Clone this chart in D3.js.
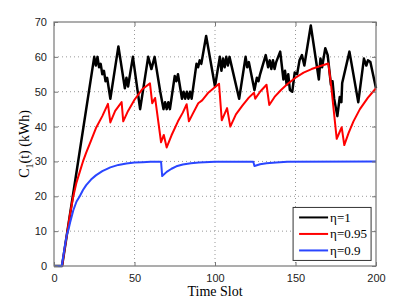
<!DOCTYPE html>
<html>
<head>
<meta charset="utf-8">
<script src="https://cdn.jsdelivr.net/npm/d3@7"></script>
<style>
  body { margin: 0; background: #fff; }
  svg { display: block; }
</style>
</head>
<body>
<svg id="chart" width="415" height="300"></svg>
<script>
// valores: [time slot, kWh]
var serieEta1 = [
  [0, 0], [5, 0], [25, 60], [26, 57.5], [27, 60], [28, 57], [29, 58], [30, 55], [31, 56], [32, 53],
  [33, 54], [35, 48], [40, 63], [44, 51], [45, 54], [46, 51.5], [49, 60], [53.5, 45], [58.5, 60],
  [60.5, 56.5], [62.5, 60], [66, 50], [68, 45], [69, 47], [70, 45], [71, 47], [72, 45], [75, 54.5],
  [76, 53], [77, 55], [79.5, 48], [80.5, 50], [81.5, 48], [82.5, 50], [83.5, 48], [84.5, 50],
  [85.5, 48], [88.5, 58], [89.5, 57], [90.5, 59], [91.5, 58], [94.5, 66], [100, 51.5], [103, 60],
  [104, 56], [105, 59.5], [106, 57], [107, 60], [108, 57.5], [109, 60], [115, 48], [119, 60],
  [120, 57], [121, 58.5], [124.5, 50.5], [126, 54], [127, 53], [128, 55], [131.5, 60.5], [133, 57],
  [134, 59], [135, 56.5], [136, 59], [137, 56.5], [138, 58.5], [140.5, 61.5], [142.5, 53.5],
  [143.5, 56], [144.5, 52], [145.5, 55], [146.5, 50.5], [148, 50], [149.5, 55.5], [151, 55],
  [152.5, 59], [154, 60.5], [155.5, 57.5], [159.5, 69], [164.5, 53.5], [165.5, 59.5], [166.5, 57],
  [168.5, 62.5], [170, 60.5], [172, 52], [173, 53], [174, 48], [176, 43], [177.5, 48.5], [178.5, 47],
  [179, 52.5], [183.5, 61.5], [189, 47], [192.5, 59.5], [194, 57.5], [195, 59], [196.5, 58.5], [200, 51]
];

var serieEta095 = [
  [0, 0], [5, 0], [8, 9], [10, 15], [12, 20], [14, 24], [16, 27], [18, 30], [20, 32.5], [23, 36],
  [26, 39.5], [30, 43], [33.5, 46.5], [35, 41.2], [38, 44.5], [42, 47], [43, 41.5], [46, 44.5],
  [50, 47.7], [55, 50.8], [59.6, 52.4], [61, 46.7], [62.8, 48.2], [66.5, 35.5], [68.2, 37.6],
  [70, 34], [73, 37.5], [77, 41.5], [80, 44], [82.4, 46.4], [83.8, 41.5], [86, 43.5], [89.6, 46.7],
  [92, 47.5], [96, 49.8], [102.5, 52.3], [104.2, 41.8], [107.5, 45.3], [109.5, 40], [113, 43.5],
  [117, 46], [121, 48.3], [124.2, 49.7], [125, 48], [128, 50], [132, 52], [133.7, 46.2], [137, 48.5],
  [141, 50.5], [145, 52.2], [150, 54], [155, 55.5], [160, 56.5], [165, 57.3], [170.4, 58.1],
  [172, 52.4], [175.6, 36.5], [178.7, 39.8], [180.3, 34.7], [183, 38.2], [186, 41.5], [190, 45],
  [195, 48.3], [200, 51]
];

var serieEta09 = [
  [0, 0], [4.8, 0], [6, 3.5], [7, 6.5], [8, 9], [9, 10.5], [10, 12.5], [12, 16], [14, 18.5],
  [16, 20], [18, 21.8], [20, 23.2], [23, 24.8], [26, 26], [30, 27.2], [35, 28.3], [40, 29],
  [45, 29.4], [50, 29.7], [55, 29.8], [60, 29.9], [66.5, 29.9], [67.2, 25.8], [70, 27], [73, 27.9],
  [76, 28.6], [80, 29.1], [85, 29.5], [90, 29.7], [100, 29.9], [123.8, 29.9], [124.5, 28.7],
  [128, 29.2], [132, 29.5], [138, 29.7], [145, 29.9], [200, 30]
];

var etiquetas = ["\u03b7=1", "\u03b7=0.95", "\u03b7=0.9"];
var colores = ["#000000", "#ff0000", "#2a46ff"];
var ticksX = [0, 50, 100, 150, 200];
var ticksY = [0, 10, 20, 30, 40, 50, 60, 70];

var margin = { top: 22, right: 39, bottom: 34, left: 54 },
    width = 415 - margin.left - margin.right,
    height = 300 - margin.top - margin.bottom;

var svg = d3.select("#chart")
    .append("g")
    .attr("transform", "translate(" + margin.left + "," + margin.top + ")");

var x = d3.scaleLinear().domain([0, 200]).range([0, width]);
var y = d3.scaleLinear().domain([0, 70]).range([height, 0]);

// rejilla punteada
svg.append("g")
    .selectAll("line")
    .data(ticksX.slice(1, -1))
    .enter().append("line")
    .attr("x1", d => x(d)).attr("x2", d => x(d))
    .attr("y1", 0).attr("y2", height)
    .attr("stroke", "#999").attr("stroke-width", 1)
    .attr("stroke-dasharray", "1,3");
svg.append("g")
    .selectAll("line")
    .data(ticksY.slice(1, -1))
    .enter().append("line")
    .attr("x1", 0).attr("x2", width)
    .attr("y1", d => y(d)).attr("y2", d => y(d))
    .attr("stroke", "#999").attr("stroke-width", 1)
    .attr("stroke-dasharray", "1,3");

var linea = d3.line()
    .x(function (d) { return x(d[0]); })
    .y(function (d) { return y(d[1]); });

var series = [serieEta1, serieEta095, serieEta09];
series.forEach(function (s, i) {
    svg.append("path")
        .datum(s)
        .attr("fill", "none")
        .attr("stroke", colores[i])
        .attr("stroke-width", i == 0 ? 2.5 : 2)
        .attr("stroke-linejoin", "round")
        .attr("d", linea);
});

// ejes con marcas hacia dentro
function estiloEje(g) {
    g.select(".domain").remove();
    g.selectAll(".tick line").attr("stroke", "#777");
    g.selectAll(".tick text")
        .attr("fill", "#222")
        .style("font-family", "Liberation Sans, Arial, sans-serif")
        .style("font-size", "11px");
}
svg.append("g")
    .attr("transform", "translate(0," + height + ")")
    .call(d3.axisBottom(x).tickValues(ticksX).tickSize(-4).tickPadding(8))
    .call(estiloEje);
svg.append("g")
    .call(d3.axisTop(x).tickValues(ticksX).tickSize(-4).tickFormat(""))
    .call(estiloEje);
svg.append("g")
    .call(d3.axisLeft(y).tickValues(ticksY).tickSize(-4).tickPadding(7))
    .call(estiloEje);
svg.append("g")
    .attr("transform", "translate(" + width + ",0)")
    .call(d3.axisRight(y).tickValues(ticksY).tickSize(-4).tickFormat(""))
    .call(estiloEje);

svg.append("rect")
    .attr("width", width).attr("height", height)
    .attr("fill", "none").attr("stroke", "#777").attr("stroke-width", 1.2);

// titulos de ejes
svg.append("text")
    .attr("x", width / 2).attr("y", height + 30)
    .attr("text-anchor", "middle")
    .style("font-family", "Liberation Serif, Times New Roman, serif")
    .style("font-size", "14px")
    .text("Time Slot");

var etiquetaY = svg.append("text")
    .attr("transform", "translate(" + (-25) + "," + (height / 2) + ") rotate(-90)")
    .attr("text-anchor", "middle")
    .style("font-family", "Liberation Serif, Times New Roman, serif")
    .style("font-size", "14px");
etiquetaY.append("tspan").text("C");
etiquetaY.append("tspan").attr("dy", 4).style("font-size", "10px").text("1");
etiquetaY.append("tspan").attr("dy", -4).text("(t) (kWh)");

// leyenda
var leyenda = svg.append("g")
    .attr("transform", "translate(" + (x(148.5)) + "," + (y(16.8)) + ")");
leyenda.append("rect")
    .attr("width", 78).attr("height", 53)
    .attr("fill", "#fff").attr("stroke", "#333").attr("stroke-width", 1);
etiquetas.forEach(function (t, i) {
    var fila = leyenda.append("g").attr("transform", "translate(0," + (10 + i * 16.5) + ")");
    fila.append("line")
        .attr("x1", 6).attr("x2", 35).attr("y1", 0).attr("y2", 0)
        .attr("stroke", colores[i]).attr("stroke-width", 2);
    fila.append("text")
        .attr("x", 37).attr("y", 4.5)
        .style("font-family", "Liberation Serif, Times New Roman, serif")
        .style("font-size", "13px")
        .text(t);
});
</script>
</body>
</html>
